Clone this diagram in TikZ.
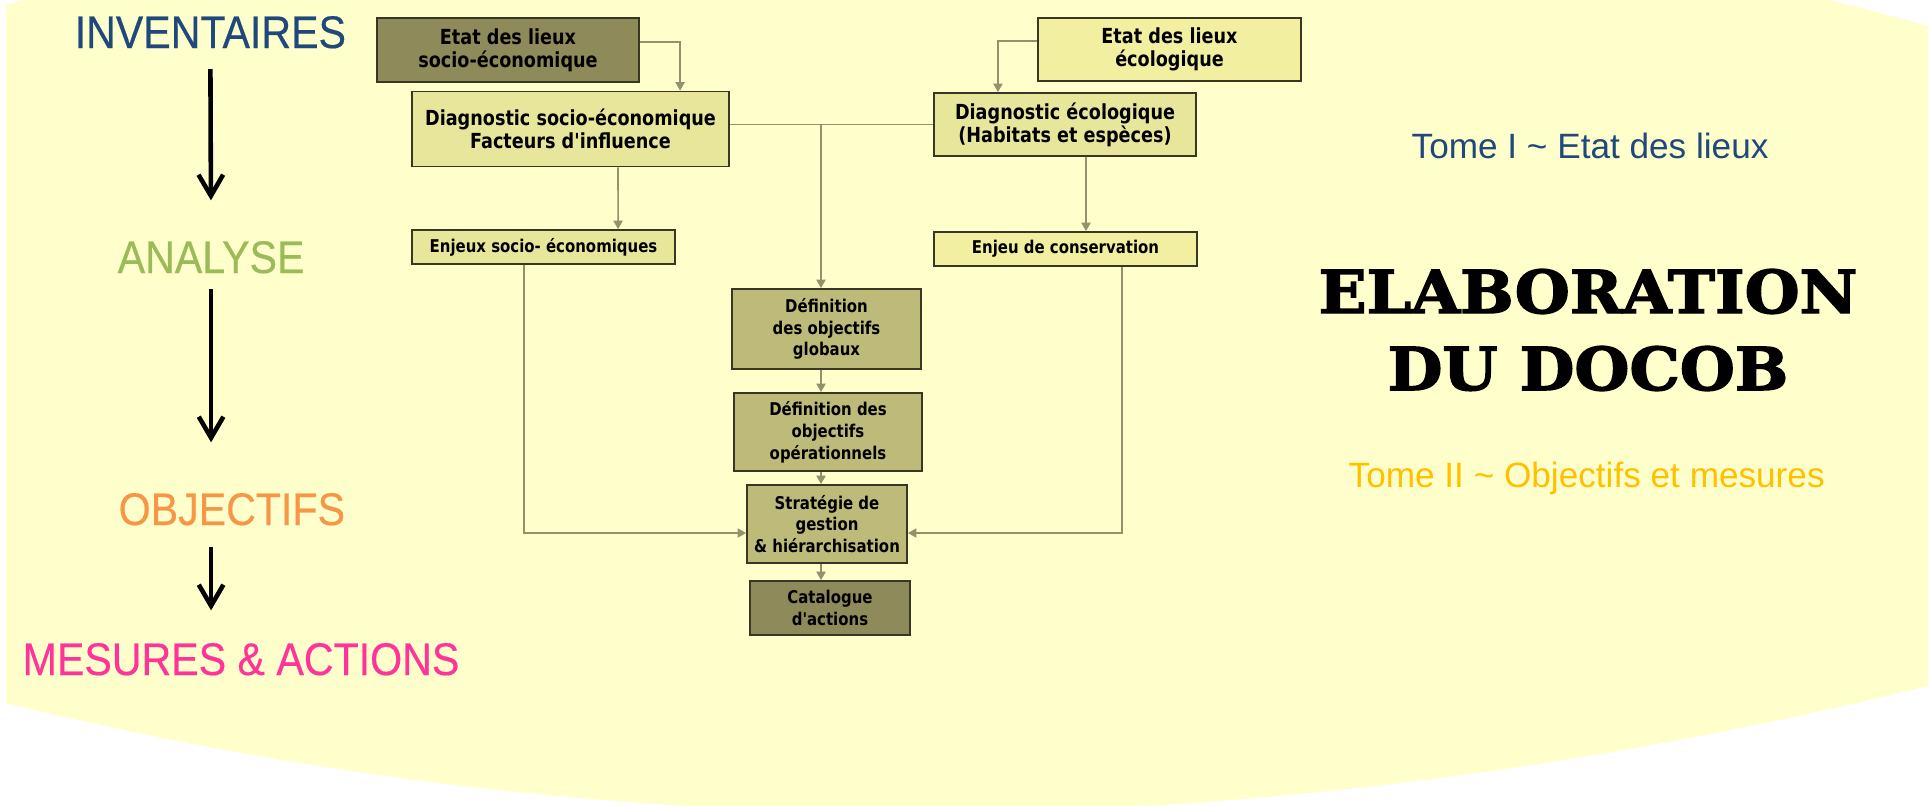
\documentclass[tikz,border=0pt]{standalone}
\usepackage{fontspec}
\setmainfont{Liberation Sans}
\newfontfamily\boxfont[FakeStretch=0.85]{DejaVu Sans}
\newfontfamily\stagefont[FakeStretch=0.9,FakeBold=0.4]{Liberation Sans}
\newfontfamily\titlefont[FakeStretch=1.07,FakeBold=2.5]{DejaVu Serif}
\usetikzlibrary{arrows.meta}
\definecolor{fond}{RGB}{255,255,204}
\definecolor{olivefonce}{RGB}{142,138,90}
\definecolor{olivemoyen}{RGB}{190,187,122}
\definecolor{jaunepale}{RGB}{232,230,154}
\definecolor{jauneclair}{RGB}{242,240,160}
\definecolor{trait}{RGB}{146,146,108}
\definecolor{bord}{RGB}{55,55,35}
\definecolor{bleutome}{RGB}{31,73,125}
\definecolor{vertana}{RGB}{155,187,89}
\definecolor{orangeobj}{RGB}{247,150,70}
\definecolor{rosemes}{RGB}{255,51,153}
\definecolor{ortome}{RGB}{255,192,0}

\begin{document}
\begin{tikzpicture}[x=0.01cm,y=-0.01cm,
  boite/.style={draw=bord,line width=0.5pt,inner sep=0pt,align=center,
    font=\boxfont\bfseries\fontsize{5}{6.2}\selectfont},
  grandtexte/.style={font=\boxfont\bfseries\fontsize{5.9}{6.6}\selectfont},
  flow/.style={draw=trait,line width=0.45pt},
  fleche/.style={flow,-{Triangle[length=2.4pt,width=2.6pt]}},
  etape/.style={inner sep=0pt,anchor=base west,font=\stagefont\fontsize{13}{15}\selectfont},
  tome/.style={inner sep=0pt,anchor=base west,font=\fontsize{10}{12}\selectfont},
  grossefleche/.style={line width=1.3pt,-{Straight Barb[length=6pt,width=7pt]}}]
\useasboundingbox (0,0) rectangle (1930,806);
\clip (0,0) rectangle (1930,806);
\fill[fond] (6,5) .. controls (646,-172) and (1288,-151) .. (1928,26) -- (1928,686)
  .. controls (1288,843) and (646,860) .. (6,703) -- cycle;

\node[etape,text=bleutome] (inv) at (74,48) {INVENTAIRES};
\node[etape,text=vertana] (ana) at (117,273) {ANALYSE};
\node[etape,text=orangeobj] (obj) at (118,525) {OBJECTIFS};
\node[etape,text=rosemes] (mes) at (22,675) {MESURES \& ACTIONS};
\draw[grossefleche,shorten <=0.2cm,shorten >=0.4cm] (inv.south) -- (ana.north);
\draw[grossefleche,shorten <=0.15cm,shorten >=0.5cm] (ana.south) -- (ana.south |- obj.north);
\draw[grossefleche,shorten <=0.21cm,shorten >=0.32cm] (obj.south -| ana.south) -- (ana.south |- mes.north);

\node[boite,grandtexte,fill=olivefonce,minimum width=2.62cm,minimum height=0.64cm] (etatsoc) at (508,50) {Etat des lieux\\socio-économique};
\node[boite,grandtexte,fill=jaunepale,minimum width=3.17cm,minimum height=0.75cm] (diagsoc) at (570.5,129) {Diagnostic socio-économique\\Facteurs d'influence};
\node[boite,grandtexte,fill=jauneclair,minimum width=2.63cm,minimum height=0.63cm] (etateco) at (1169.5,49.5) {Etat des lieux\\écologique};
\node[boite,grandtexte,fill=jaunepale,minimum width=2.62cm,minimum height=0.63cm] (diageco) at (1065,124.5) {Diagnostic écologique\\(Habitats et espèces)};
\node[boite,fill=jaunepale,minimum width=2.63cm,minimum height=0.34cm] (enjsoc) at (543.5,247) {Enjeux socio- économiques};
\node[boite,fill=jauneclair,minimum width=2.63cm,minimum height=0.34cm] (enjcons) at (1065.5,249) {Enjeu de conservation};
\node[boite,fill=olivemoyen,minimum width=1.89cm,minimum height=0.80cm] (globaux) at (826.5,329) {Définition\\des objectifs\\globaux};
\node[boite,fill=olivemoyen,minimum width=1.88cm,minimum height=0.78cm] (operat) at (828,432) {Définition des\\objectifs\\opérationnels};
\node[boite,fill=olivemoyen,minimum width=1.60cm,minimum height=0.78cm] (strat) at (827,524) {Stratégie de\\gestion\\\& hiérarchisation};
\node[boite,fill=olivefonce,minimum width=1.60cm,minimum height=0.54cm] (catal) at (830,608) {Catalogue\\d'actions};

\draw[fleche] ([yshift=0.08cm]etatsoc.east) -| ([xshift=1.095cm]diagsoc.north);
\draw[fleche] ([yshift=0.085cm]etateco.west) -| ([xshift=-0.67cm]diageco.north);
\draw[flow] (diagsoc.east |- diageco.west) -- (diageco.west);
\coordinate (axe) at (821,124.5);
\draw[fleche] (axe) -- (axe |- globaux.north);
\draw[fleche] ([xshift=0.475cm]diagsoc.south) -- ([xshift=0.745cm]enjsoc.north);
\draw[fleche] ([xshift=0.21cm]diageco.south) -- ([xshift=0.205cm]enjcons.north);
\draw[fleche] ([xshift=-0.195cm]enjsoc.south) |- ([yshift=-0.09cm]strat.west);
\draw[fleche] ([xshift=0.565cm]enjcons.south) |- ([yshift=-0.09cm]strat.east);
\draw[fleche] (globaux.south -| axe) -- (operat.north -| axe);
\draw[fleche] (operat.south -| axe) -- (strat.north -| axe);
\draw[fleche] (strat.south -| axe) -- (catal.north -| axe);

\node[tome,text=bleutome] (tomeun) at (1411,158) {Tome I \textasciitilde{} Etat des lieux};
\node[align=center,inner sep=0pt,font=\titlefont\bfseries\fontsize{16.8}{21.9}\selectfont] (titre) at (1588,330) {ELABORATION\\DU DOCOB};
\node[tome,text=ortome] (tomedeux) at (1348,487) {Tome II \textasciitilde{} Objectifs et mesures};
\end{tikzpicture}
\end{document}
